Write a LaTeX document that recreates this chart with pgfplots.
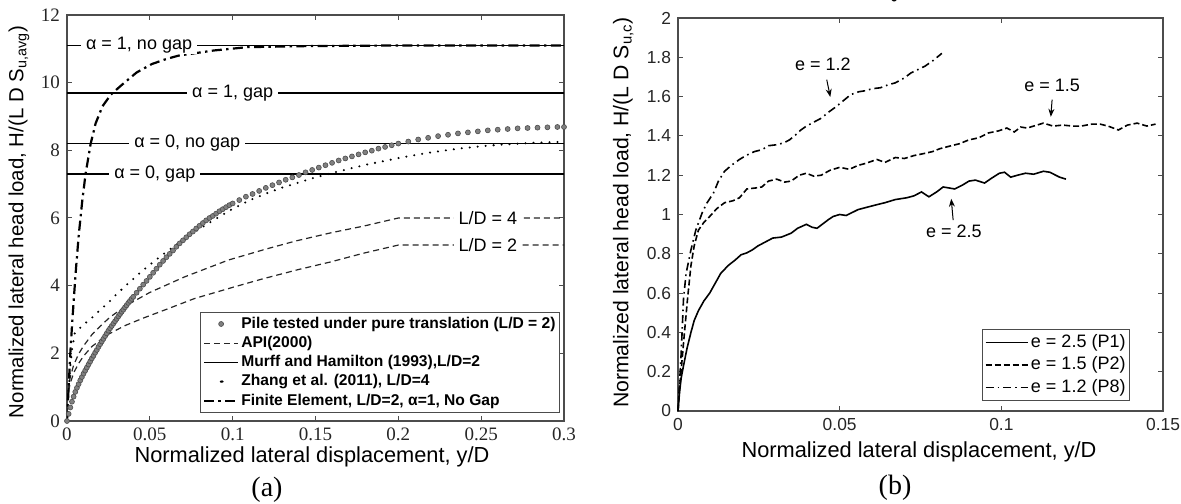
\documentclass[border=0pt]{standalone}
\usepackage{fontspec}
\setmainfont{Liberation Sans}
\newfontfamily\serifF{Liberation Serif}
\usepackage{pgfplots}
\pgfplotsset{compat=1.18}
\usetikzlibrary{arrows.meta}
\begin{document}
\begin{tikzpicture}[x=1pt,y=1pt]
\useasboundingbox (0,0) rectangle (590.5,251.5);
% ---------------- (a) ----------------
\begin{axis}[at={(33.5pt,41pt)}, anchor=south west, scale only axis,
  width=248.5pt, height=203pt,
  xmin=0, xmax=0.3, ymin=0, ymax=12,
  xtick={0,0.05,0.1,0.15,0.2,0.25,0.3}, ytick={0,2,4,6,8,10,12},
  scaled ticks=false,
  /pgf/number format/assume math mode=true,
  xticklabel style={/pgf/number format/fixed,/pgf/number format/precision=2},
  tick label style={font=\serifF\fontsize{9.5}{11}\selectfont, text=black!85},
  axis line style={black!70, line width=0.6pt},
  tick style={black!70, line width=0.5pt}, major tick length=2.5pt,
  xlabel={Normalized lateral displacement, y/D},
  ylabel={Normalized lateral head load, H/(L D S\textsubscript{u,avg})},
  xlabel style={font=\fontsize{10.9}{12}\selectfont, at={(axis description cs:0.493,-0.0887)}, anchor=center},
  ylabel style={font=\fontsize{10.2}{12}\selectfont, at={(axis description cs:-0.0966,0.49)}, anchor=center},
  legend style={at={(axis description cs:0.992,0.02)}, anchor=south east,
    font=\fontsize{7.8}{9}\selectfont\bfseries, draw=black!70, line width=0.5pt, fill=white,
    inner xsep=1pt, inner ysep=1pt,
    nodes={inner sep=1pt, text height=6pt, text depth=1.6pt}},
  legend cell align=left,
]
% Pile tested under pure translation
\addplot[only marks, mark=*, mark size=1.25pt, mark options={fill=black!50, draw=black!70, line width=0.3pt}] coordinates {
(0,0)(0.001,0.21)(0.002,0.4)(0.003,0.57)(0.004,0.72)(0.005,0.86)(0.006,0.98)(0.007,1.09)(0.008,1.2)(0.009,1.3)
(0.010,1.4)(0.011,1.49)(0.012,1.58)(0.013,1.67)(0.014,1.76)(0.015,1.85)(0.016,1.93)(0.017,2.02)(0.018,2.1)(0.019,2.19)
(0.020,2.27)(0.021,2.35)(0.022,2.43)(0.023,2.51)(0.024,2.59)(0.025,2.67)(0.026,2.74)(0.027,2.81)(0.028,2.88)(0.029,2.95)
(0.030,3.02)(0.031,3.09)(0.032,3.16)(0.033,3.23)(0.034,3.29)(0.035,3.36)(0.036,3.42)(0.037,3.49)(0.038,3.55)(0.039,3.61)
(0.040,3.67)(0.042,3.79)(0.044,3.91)(0.046,4.03)(0.048,4.14)(0.050,4.26)(0.052,4.38)(0.054,4.5)(0.056,4.62)(0.058,4.73)
(0.060,4.84)(0.062,4.94)(0.064,5.04)(0.066,5.15)(0.068,5.25)(0.070,5.34)(0.072,5.43)(0.074,5.52)(0.076,5.6)(0.078,5.69)
(0.080,5.77)(0.082,5.85)(0.084,5.93)(0.086,6.0)(0.088,6.06)(0.090,6.13)(0.092,6.2)(0.094,6.26)(0.096,6.32)(0.098,6.38)
(0.100,6.43)(0.104,6.53)(0.108,6.63)(0.112,6.71)(0.116,6.8)(0.120,6.89)(0.124,6.97)(0.128,7.05)(0.132,7.13)(0.136,7.2)
(0.140,7.27)(0.144,7.35)(0.148,7.42)(0.152,7.49)(0.156,7.56)(0.160,7.63)(0.164,7.7)(0.168,7.76)(0.172,7.82)(0.176,7.88)
(0.180,7.94)(0.184,7.99)(0.188,8.05)(0.192,8.1)(0.196,8.15)(0.200,8.2)(0.206,8.26)(0.212,8.32)(0.218,8.37)(0.224,8.42)
(0.230,8.46)(0.236,8.5)(0.242,8.53)(0.248,8.56)(0.254,8.59)(0.260,8.61)(0.266,8.63)(0.272,8.65)(0.278,8.66)(0.284,8.67)
(0.290,8.68)(0.296,8.69)(0.300,8.69)};
\addlegendentry{Pile tested under pure translation (L/D = 2)}
% API (2000)
\addplot[black!85, line width=0.6pt, dash pattern=on 3pt off 2pt] coordinates {
(0,0)(0.0005,0.8)(0.001,1.05)(0.002,1.3)(0.004,1.65)(0.007,1.98)(0.01,2.22)(0.015,2.55)(0.02,2.8)(0.026,3.07)
(0.036,3.42)(0.05,3.8)(0.071,4.26)(0.0976,4.76)(0.12,5.08)(0.138,5.32)(0.16,5.57)(0.179,5.76)(0.2,6.0)(0.3,6.0)};
\addlegendentry{API(2000)}
\addplot[black!85, line width=0.6pt, dash pattern=on 3pt off 2pt, forget plot] coordinates {
(0,0)(0.0005,0.7)(0.001,0.9)(0.002,1.12)(0.004,1.42)(0.007,1.7)(0.01,1.92)(0.015,2.2)(0.024,2.54)(0.035,2.82)
(0.0465,3.05)(0.06,3.3)(0.077,3.62)(0.1,3.95)(0.118,4.2)(0.14,4.48)(0.159,4.7)(0.179,4.96)(0.2,5.2)(0.3,5.2)};
% Murff and Hamilton
\addplot[black, line width=0.8pt] coordinates {(0,11.1)(0.3,11.1)};
\addlegendentry{Murff and Hamilton (1993),L/D=2}
\addplot[black, line width=0.8pt, forget plot] coordinates {(0,9.7)(0.3,9.7)};
\addplot[black, line width=0.8pt, forget plot] coordinates {(0,8.2)(0.3,8.2)};
\addplot[black, line width=0.8pt, forget plot] coordinates {(0,7.3)(0.3,7.3)};
% Zhang et al.
\addplot[black, line width=1.15pt, line cap=round, dash pattern=on 0pt off 4pt,
  legend image code/.code={\fill[black] (0.3cm,0cm) circle (0.7pt);}] coordinates {
(0,0)(0.001,0.9)(0.002,1.6)(0.003,2.1)(0.0047,2.6)(0.01,2.85)(0.015,3.05)(0.02,3.28)(0.025,3.5)(0.03,3.75)
(0.035,3.98)(0.04,4.2)(0.045,4.42)(0.05,4.62)(0.06,5.0)(0.07,5.35)(0.08,5.68)(0.09,5.98)(0.1,6.27)(0.11,6.52)
(0.12,6.72)(0.13,6.9)(0.14,7.05)(0.15,7.2)(0.16,7.33)(0.17,7.45)(0.18,7.57)(0.19,7.67)(0.2,7.77)(0.21,7.86)
(0.22,7.94)(0.23,8.01)(0.24,8.07)(0.25,8.12)(0.26,8.16)(0.28,8.22)(0.3,8.25)};
\addlegendentry{Zhang et al. (2011), L/D=4}
% Finite element
\addplot[black, line width=1.1pt, dash pattern=on 5pt off 2.2pt on 1.2pt off 2.2pt] coordinates {
(0,0)(0.001,1.0)(0.002,2.0)(0.003,2.8)(0.0041,3.6)(0.0055,4.55)(0.0071,5.5)(0.0092,6.5)(0.0112,7.3)(0.0143,8.2)
(0.0173,8.8)(0.0214,9.3)(0.0265,9.65)(0.033,9.93)(0.042,10.3)(0.0512,10.55)(0.06,10.7)(0.0674,10.8)(0.0884,10.95)
(0.109,11.05)(0.144,11.08)(0.2,11.1)(0.3,11.1)};
\addlegendentry{Finite Element, L/D=2, α=1, No Gap}
% labels on lines
\begin{scope}[every node/.style={fill=white, inner xsep=2.5pt, inner ysep=0.3pt, font=\fontsize{9}{10}\selectfont}]
\node at (axis cs:0.0435,11.1) {α = 1, no gap};
\node at (axis cs:0.1,9.7) {α = 1, gap};
\node at (axis cs:0.0726,8.2) {α = 0, no gap};
\node at (axis cs:0.053,7.3) {α = 0, gap};
\node at (axis cs:0.254,6.0) {L/D = 4};
\node at (axis cs:0.254,5.2) {L/D = 2};
\end{scope}
\end{axis}
% ---------------- (b) ----------------
\begin{axis}[at={(339pt,46pt)}, anchor=south west, scale only axis,
  width=242.5pt, height=196.5pt, clip=false,
  xmin=0, xmax=0.15, ymin=0, ymax=2,
  xtick={0,0.05,0.1,0.15}, ytick={0,0.2,0.4,0.6,0.8,1,1.2,1.4,1.6,1.8,2},
  scaled ticks=false,
  /pgf/number format/assume math mode=true,
  tick label style={/pgf/number format/fixed,/pgf/number format/precision=2, font=\fontsize{8.7}{10}\selectfont, text=black!85},
  axis line style={black!70, line width=0.6pt},
  tick style={black!70, line width=0.5pt}, major tick length=2.5pt,
  xlabel={Normalized lateral displacement, y/D},
  ylabel={Normalized lateral head load, H/(L D S\textsubscript{u,c})},
  xlabel style={font=\fontsize{10.9}{12}\selectfont, at={(axis description cs:0.497,-0.103)}, anchor=center},
  ylabel style={font=\fontsize{10.6}{12}\selectfont, at={(axis description cs:-0.113,0.505)}, anchor=center},
  legend style={at={(axis description cs:0.932,0.025)}, anchor=south east,
    font=\fontsize{9}{10}\selectfont, draw=black!70, line width=0.5pt, fill=white,
    inner xsep=1pt, inner ysep=1pt,
    nodes={inner sep=1pt, text height=7pt, text depth=2.25pt}},
  legend cell align=left,
  legend image code/.code={\draw[#1] (0cm,0cm) -- (0.75cm,0cm);},
]
\addplot[black, line width=0.8pt] coordinates {
(0,0)(0.0005,0.1)(0.001,0.17)(0.0017,0.23)(0.0028,0.32)(0.004,0.40)(0.005,0.46)(0.0063,0.51)(0.008,0.56)(0.0098,0.60)
(0.0115,0.65)(0.0132,0.70)(0.0155,0.74)(0.0178,0.77)(0.0195,0.795)(0.0213,0.805)(0.023,0.82)(0.0247,0.84)(0.027,0.86)
(0.0293,0.88)(0.032,0.885)(0.035,0.905)(0.037,0.93)(0.0397,0.95)(0.0415,0.935)(0.043,0.93)(0.045,0.955)(0.0466,0.975)
(0.048,0.99)(0.05,1.0)(0.052,0.995)(0.0557,1.025)(0.058,1.035)(0.0615,1.05)(0.064,1.06)(0.0672,1.076)(0.0707,1.085)
(0.073,1.095)(0.0753,1.115)(0.0776,1.09)(0.08,1.115)(0.082,1.14)(0.0856,1.13)(0.088,1.15)(0.09,1.17)(0.092,1.175)
(0.0948,1.16)(0.097,1.185)(0.0994,1.21)(0.101,1.215)(0.1029,1.19)(0.105,1.2)(0.1075,1.21)(0.11,1.205)(0.113,1.22)
(0.115,1.215)(0.118,1.19)(0.12,1.18)};
\addlegendentry{e = 2.5 (P1)}
\addplot[black, line width=0.8pt, dash pattern=on 3pt off 1.5pt] coordinates {
(0,0)(0.0005,0.12)(0.0011,0.23)(0.002,0.4)(0.003,0.58)(0.004,0.74)(0.005,0.84)(0.0063,0.92)(0.008,0.96)(0.0098,0.99)
(0.012,1.03)(0.0144,1.06)(0.017,1.07)(0.019,1.085)(0.0213,1.13)(0.024,1.135)(0.0259,1.14)(0.028,1.17)(0.0305,1.18)
(0.033,1.165)(0.035,1.17)(0.0375,1.2)(0.0397,1.21)(0.042,1.195)(0.0443,1.2)(0.047,1.225)(0.05,1.24)(0.053,1.23)
(0.0557,1.25)(0.058,1.26)(0.0615,1.28)(0.064,1.265)(0.0672,1.29)(0.07,1.285)(0.073,1.3)(0.076,1.31)(0.0787,1.32)
(0.081,1.335)(0.0845,1.35)(0.087,1.36)(0.09,1.38)(0.093,1.39)(0.096,1.415)(0.099,1.425)(0.1017,1.44)(0.104,1.42)
(0.106,1.445)(0.108,1.44)(0.111,1.455)(0.113,1.465)(0.116,1.45)(0.119,1.455)(0.122,1.45)(0.1247,1.45)(0.128,1.46)
(0.1305,1.46)(0.133,1.45)(0.1362,1.43)(0.139,1.455)(0.142,1.465)(0.145,1.45)(0.1477,1.46)};
\addlegendentry{e = 1.5 (P2)}
\addplot[black, line width=0.8pt, dash pattern=on 4pt off 2pt on 0.8pt off 2pt] coordinates {
(0,0)(0.0005,0.15)(0.001,0.3)(0.0017,0.57)(0.0025,0.7)(0.004,0.82)(0.0055,0.92)(0.0075,1.01)(0.009,1.06)(0.011,1.11)
(0.0125,1.17)(0.0144,1.22)(0.0165,1.25)(0.019,1.28)(0.021,1.3)(0.0236,1.32)(0.026,1.33)(0.028,1.35)(0.0305,1.355)
(0.0328,1.365)(0.0345,1.38)(0.036,1.40)(0.038,1.43)(0.0397,1.45)(0.042,1.47)(0.0443,1.49)(0.0465,1.52)(0.049,1.55)
(0.0512,1.58)(0.0534,1.61)(0.056,1.625)(0.058,1.63)(0.06,1.64)(0.0626,1.645)(0.065,1.66)(0.0672,1.67)(0.07,1.695)
(0.072,1.72)(0.0745,1.74)(0.0764,1.755)(0.079,1.785)(0.0816,1.82)};
\addlegendentry{e = 1.2 (P8)}
\begin{scope}[every node/.style={font=\fontsize{9}{10}\selectfont}]
\node at (axis cs:0.0448,1.763) {e = 1.2};
\node at (axis cs:0.1157,1.656) {e = 1.5};
\node at (axis cs:0.0853,0.915) {e = 2.5};
\node at (axis cs:0.067,2.06) {˘};
\end{scope}
\draw[-{Stealth[length=4pt,width=3pt]}, line width=0.5pt] (axis cs:0.046,1.686) -- (axis cs:0.0471,1.598);
\draw[-{Stealth[length=4pt,width=3pt]}, line width=0.5pt] (axis cs:0.1157,1.585) -- (axis cs:0.1153,1.497);
\draw[-{Stealth[length=4pt,width=3pt]}, line width=0.5pt] (axis cs:0.0851,0.971) -- (axis cs:0.0845,1.08);
\end{axis}
\node[font=\serifF\fontsize{14}{16}\selectfont] at (133.5,6.5) {(a)};
\node[font=\serifF\fontsize{14}{16}\selectfont] at (447.5,7.5) {(b)};
\end{tikzpicture}
\end{document}
